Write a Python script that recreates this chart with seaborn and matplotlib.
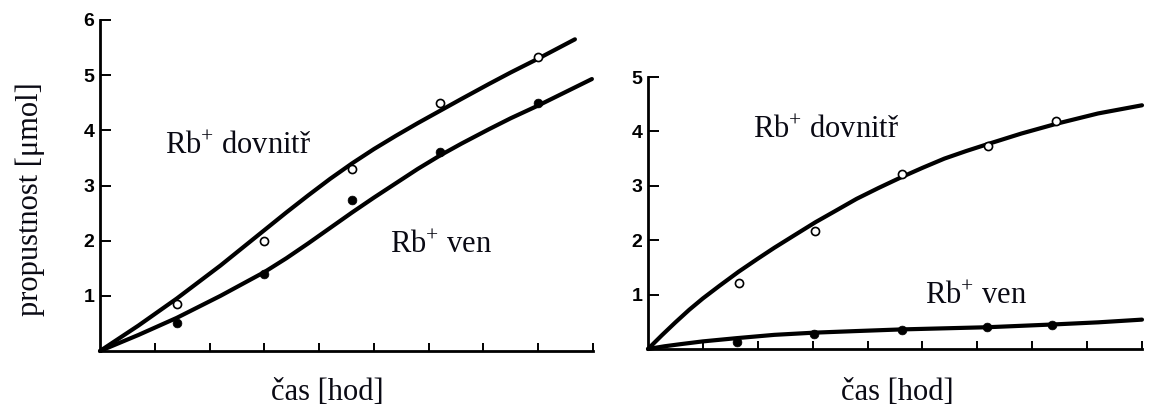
import numpy as np
import pandas as pd
import matplotlib
matplotlib.use("Agg")
import matplotlib.pyplot as plt
import seaborn as sns

# ---------------- data ----------------
# left panel: measured points
left_pts_x = [1.4, 3.0, 4.6, 6.2, 8.0]
left_in_y = [0.85, 2.0, 3.3, 4.5, 5.33]
left_out_y = [0.5, 1.4, 2.73, 3.6, 4.5]
# left panel: fitted curves
left_in_curve_x = [0, 0.7, 1.4, 2.2, 3.0, 3.4, 3.8, 4.2, 4.6, 5.0, 5.4, 5.8, 6.2, 6.6, 7.1, 7.5, 8.0, 8.67]
left_in_curve_y = [0, 0.46, 0.95, 1.55, 2.19, 2.51, 2.82, 3.12, 3.4, 3.66, 3.9, 4.13, 4.35, 4.57, 4.84, 5.05, 5.30, 5.65]
left_out_curve_x = [0, 0.7, 1.4, 2.2, 3.0, 3.4, 3.8, 4.2, 4.6, 5.0, 5.4, 5.8, 6.2, 6.6, 7.1, 7.5, 8.0, 8.98]
left_out_curve_y = [0, 0.29, 0.6, 1.0, 1.43, 1.68, 1.95, 2.23, 2.51, 2.78, 3.04, 3.3, 3.54, 3.76, 4.02, 4.22, 4.45, 4.93]

# right panel: measured points
right_in_x = [1.65, 3.05, 4.62, 6.2, 7.44]
right_in_y = [1.22, 2.16, 3.22, 3.73, 4.2]
right_out_x = [1.62, 3.02, 4.62, 6.18, 7.36]
right_out_y = [0.13, 0.27, 0.35, 0.40, 0.44]
# right panel: fitted curves
right_in_curve_x = [0, 0.25, 0.5, 0.75, 1.0, 1.3, 1.65, 2.0, 2.3, 2.65, 3.05, 3.4, 3.8, 4.2,
                    4.62, 5.0, 5.4, 5.8, 6.2, 6.8, 7.44, 8.2, 9.0]
right_in_curve_y = [0, 0.25, 0.49, 0.72, 0.93, 1.16, 1.42, 1.66, 1.86, 2.08, 2.33, 2.53, 2.76, 2.96,
                    3.16, 3.33, 3.50, 3.64, 3.77, 3.96, 4.14, 4.33, 4.48]
right_out_curve_x = [0, 0.3, 0.6, 1.0, 1.62, 2.3, 3.02, 3.8, 4.62, 5.4, 6.18, 7.36, 8.2, 9.0]
right_out_curve_y = [0, 0.05, 0.09, 0.14, 0.2, 0.26, 0.3, 0.33, 0.36, 0.38, 0.40, 0.45, 0.49, 0.54]

left_yticks = [1, 2, 3, 4, 5, 6]
right_yticks = [1, 2, 3, 4, 5]
xticks = [1, 2, 3, 4, 5, 6, 7, 8, 9]

y_label = "propustnost [μmol]"
x_label = "čas [hod]"
lab_in = "Rb$^{+}$ dovnitř"
lab_out = "Rb$^{+}$ ven"

# ---------------- style ----------------
sns.set_style("ticks")
plt.rcParams["font.family"] = ["Liberation Serif", "DejaVu Serif"]
plt.rcParams["mathtext.fontset"] = "custom"
plt.rcParams["mathtext.rm"] = "Liberation Serif"
plt.rcParams["mathtext.it"] = "Liberation Serif"
plt.rcParams["mathtext.bf"] = "Liberation Serif"

W, H = 1149, 409
fig = plt.figure(figsize=(W / 100, H / 100), dpi=100)
fig.patch.set_facecolor("white")

def px_axes(x0, x1, y_top, y_bot):
    return fig.add_axes([x0 / W, 1 - y_bot / H, (x1 - x0) / W, (y_bot - y_top) / H])

axL = px_axes(100, 593, 20, 351)
axR = px_axes(648, 1142, 77, 349)

INK = "#0a0a14"
LW = 3.0

def draw_curve(ax, xs, ys):
    d = pd.DataFrame({"x": xs, "y": ys})
    sns.lineplot(data=d, x="x", y="y", ax=ax, color="black", lw=LW,
                 estimator=None, sort=False, clip_on=False, zorder=3,
                 solid_joinstyle="round", solid_capstyle="round")

def draw_points(ax, xs, ys, filled):
    d = pd.DataFrame({"x": xs, "y": ys})
    if filled:
        sns.scatterplot(data=d, x="x", y="y", ax=ax, s=40, color="black",
                        edgecolor="black", linewidth=0.5, zorder=4, clip_on=False)
    else:
        sns.scatterplot(data=d, x="x", y="y", ax=ax, s=34, facecolor="white",
                        edgecolor="black", linewidth=1.2, zorder=4, clip_on=False)

draw_curve(axL, left_in_curve_x, left_in_curve_y)
draw_curve(axL, left_out_curve_x, left_out_curve_y)
draw_points(axL, left_pts_x, left_in_y, False)
draw_points(axL, left_pts_x, left_out_y, True)

draw_curve(axR, right_in_curve_x, right_in_curve_y)
draw_curve(axR, right_out_curve_x, right_out_curve_y)
draw_points(axR, right_in_x, right_in_y, False)
draw_points(axR, right_out_x, right_out_y, True)

for ax, ymax, yt in [(axL, 6, left_yticks), (axR, 5, right_yticks)]:
    ax.set_xlim(0, 9)
    ax.set_ylim(0, ymax)
    sns.despine(ax=ax)
    ax.set_facecolor("white")
    for s in ("left", "bottom"):
        ax.spines[s].set_linewidth(2.0)
        ax.spines[s].set_color("black")
    ax.set_xticks(xticks)
    ax.set_xticklabels([])
    ax.set_yticks(yt)
    ax.set_yticklabels([str(v) for v in yt], fontfamily="Liberation Sans",
                       fontweight="bold", fontsize=14, color="black")
    ax.tick_params(axis="x", direction="in", length=6, width=1.4, color="black")
    ax.tick_params(axis="y", direction="in", length=8, width=1.4, color="black", pad=4)
    ax.set_xlabel("")
    ax.set_ylabel("")

def ftext(x, y, s, **kw):
    fig.text(x / W, 1 - y / H, s, color=INK, fontsize=22, **kw)

ftext(30, 199, y_label, rotation=90, ha="center", va="center")
ftext(327, 392, x_label, ha="center", va="center")
ftext(897, 392, x_label, ha="center", va="center")
ftext(165, 146, lab_in, ha="left", va="center")
ftext(390, 245, lab_out, ha="left", va="center")
ftext(753, 131, lab_in, ha="left", va="center")
ftext(925, 297, lab_out, ha="left", va="center")

fig.savefig("out.png", dpi=100, facecolor="white")
